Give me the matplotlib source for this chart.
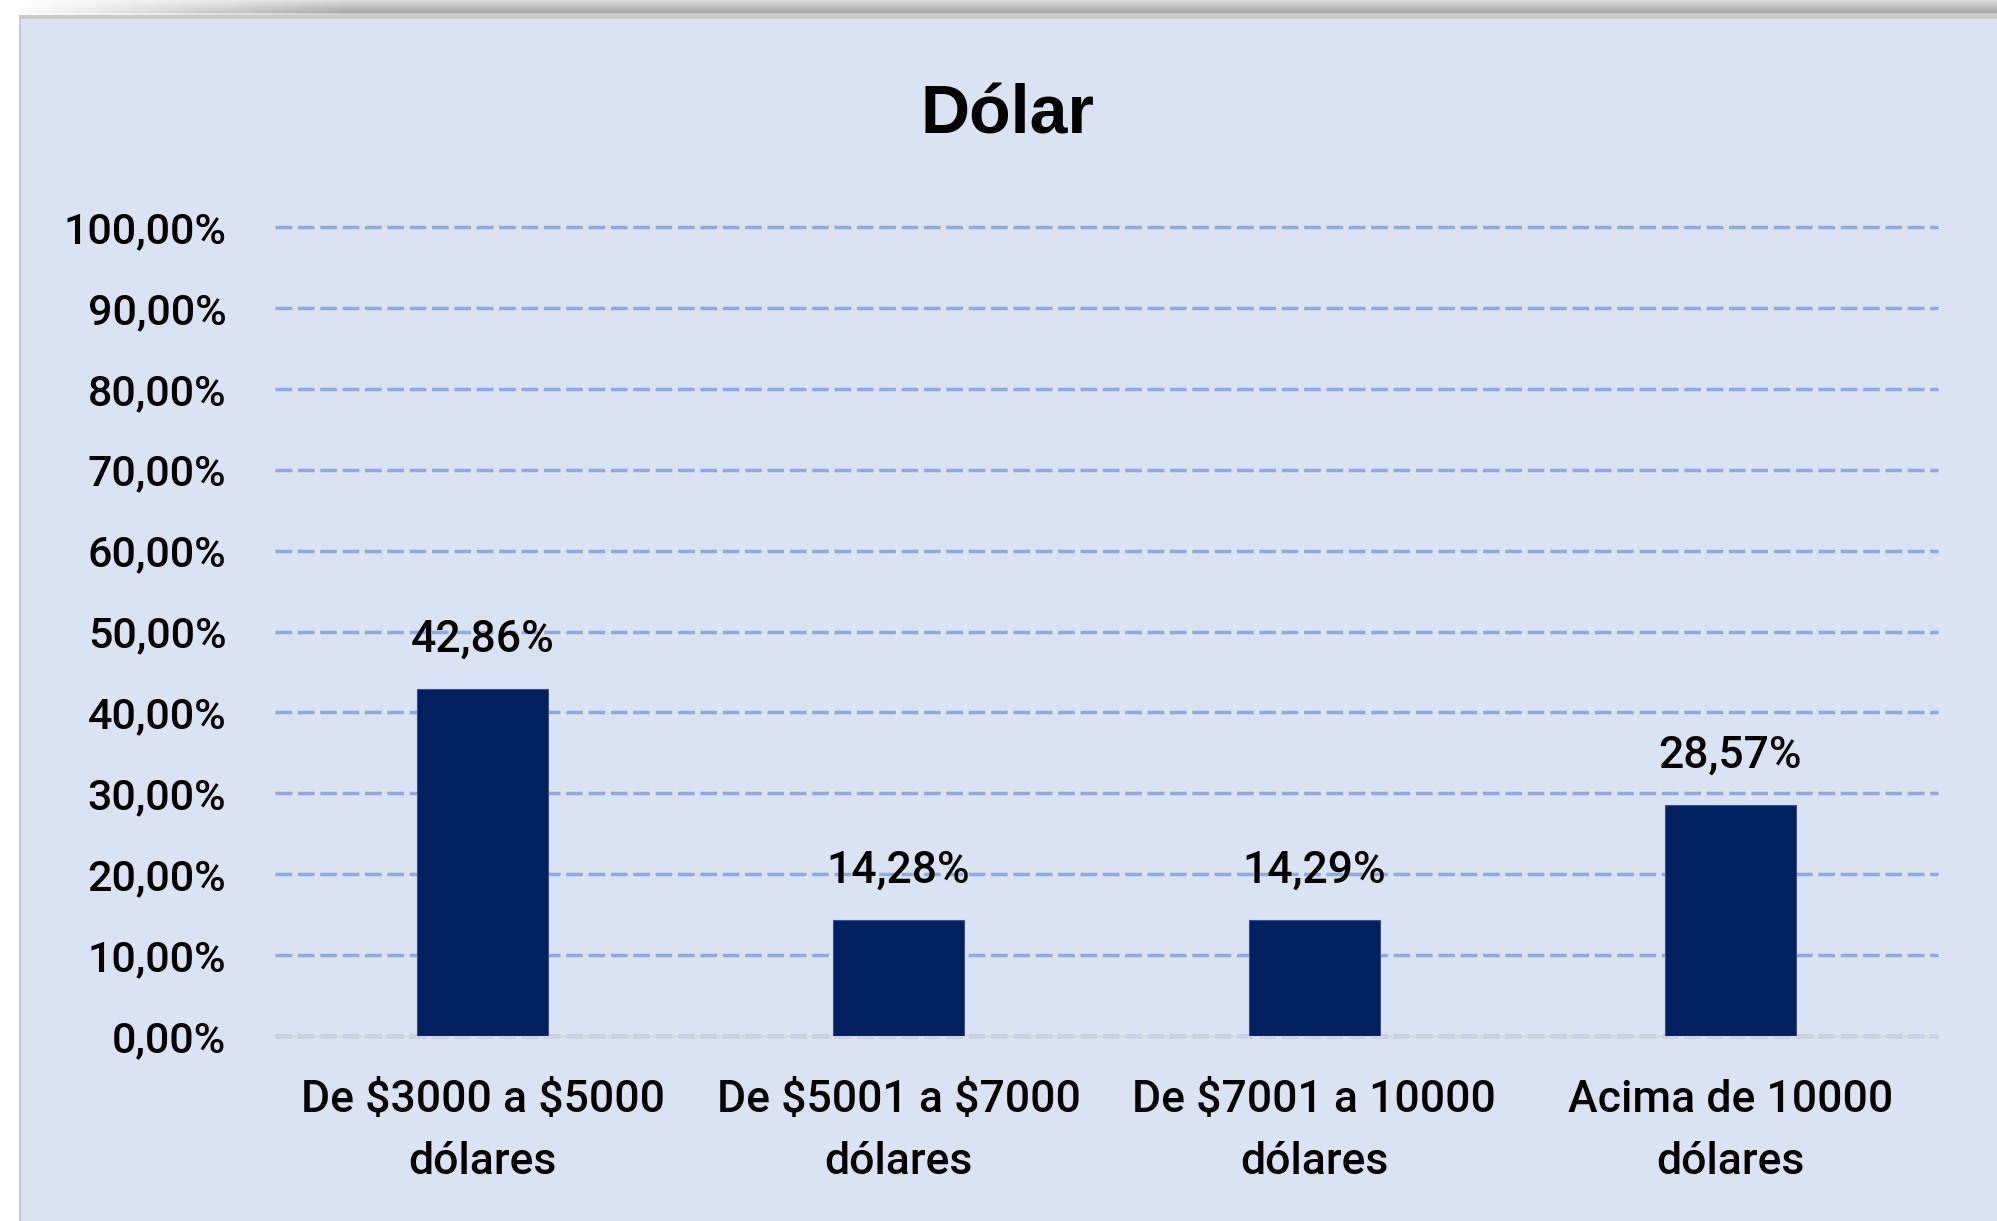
import numpy as np
import matplotlib
matplotlib.use("Agg")
import matplotlib.pyplot as plt
from matplotlib.patches import Rectangle

# data
categories = ["De $3000 a $5000\ndólares", "De $5001 a $7000\ndólares",
              "De $7001 a 10000\ndólares", "Acima de 10000\ndólares"]
values = [0.4286, 0.1428, 0.1429, 0.2857]
value_labels = ["42,86%", "14,28%", "14,29%", "28,57%"]
yticks = [0.0, 0.1, 0.2, 0.3, 0.4, 0.5, 0.6, 0.7, 0.8, 0.9, 1.0]
ytick_labels = ["0,00%", "10,00%", "20,00%", "30,00%", "40,00%", "50,00%",
                "60,00%", "70,00%", "80,00%", "90,00%", "100,00%"]
title = "Dólar"

plt.rcParams['font.family'] = ['Roboto', 'Liberation Sans', 'DejaVu Sans']
txt_weight = 'medium'

W, H = 1997, 1221
fig = plt.figure(figsize=(W / 100, H / 100), dpi=100)
fig.patch.set_facecolor('white')

panel_bg = '#dae3f3'

# shadow strip above the chart panel
sh = fig.add_axes([10 / W, (H - 19) / H, 1 - 10 / W, 19 / H])
grad = np.concatenate([np.linspace(0.86, 0.66, 13), np.linspace(0.80, 0.88, 6)])
img = np.tile(grad[:, None], (1, 400))
fade = np.clip(np.linspace(0, 6, 400), 0, 1)
img = 1 - (1 - img) * fade[None, :]
sh.imshow(img, cmap='gray', vmin=0, vmax=1, aspect='auto', interpolation='bilinear')
sh.axis('off')

# chart panel
fig.patches.append(Rectangle((19 / W, 0), 1 - 19 / W, (H - 15) / H, transform=fig.transFigure,
                             facecolor='#c9c9c9', edgecolor='none', zorder=0))
fig.patches.append(Rectangle((21 / W, 0), 1 - 21 / W, (H - 19) / H, transform=fig.transFigure,
                             facecolor=panel_bg, edgecolor='none', zorder=0))

ax = fig.add_axes([275 / W, 185 / H, 1663 / W, 809 / H])
ax.set_zorder(3)
ax.set_facecolor('none')

x = np.arange(len(categories))
ax.bar(x, values, width=0.315, color='#002060', edgecolor='#3a5283', linewidth=0.8, zorder=2)

for xi, v, lab in zip(x, values, value_labels):
    ax.annotate(lab, (xi, v), xytext=(0, 27), textcoords='offset points',
                ha='center', va='baseline', fontsize=32, fontweight=txt_weight,
                color='black', zorder=3)

ax.set_xlim(-0.5, len(categories) - 0.5)
ax.set_ylim(0, 1.0)
ax.set_yticks(yticks)
ax.set_yticklabels(ytick_labels, fontsize=31, fontweight=txt_weight)
ax.set_xticks(x)
ax.set_xticklabels(categories, fontsize=32, fontweight=txt_weight,
                   linespacing=1.6, parse_math=False)
ax.tick_params(axis='y', length=0, pad=35)
ax.tick_params(axis='x', length=0, pad=31)

ax.grid(axis='y', color='#8faadc', linewidth=2.5, linestyle=(0, (4.8, 1.64)), zorder=1)
ax.set_axisbelow(True)
for gl in ax.get_ygridlines():
    gl.set_clip_on(False)

for s in ['top', 'right', 'left']:
    ax.spines[s].set_visible(False)
ax.spines['bottom'].set_color('#d9d9d9')
ax.spines['bottom'].set_linewidth(1.8)
ax.spines['bottom'].set_zorder(1.5)

fig.text(1008 / W, (H - 133) / H, title, ha='center', va='baseline',
         fontsize=49, fontweight='bold', family=['Liberation Sans', 'DejaVu Sans'],
         zorder=5)

fig.savefig('out.png', dpi=100)
